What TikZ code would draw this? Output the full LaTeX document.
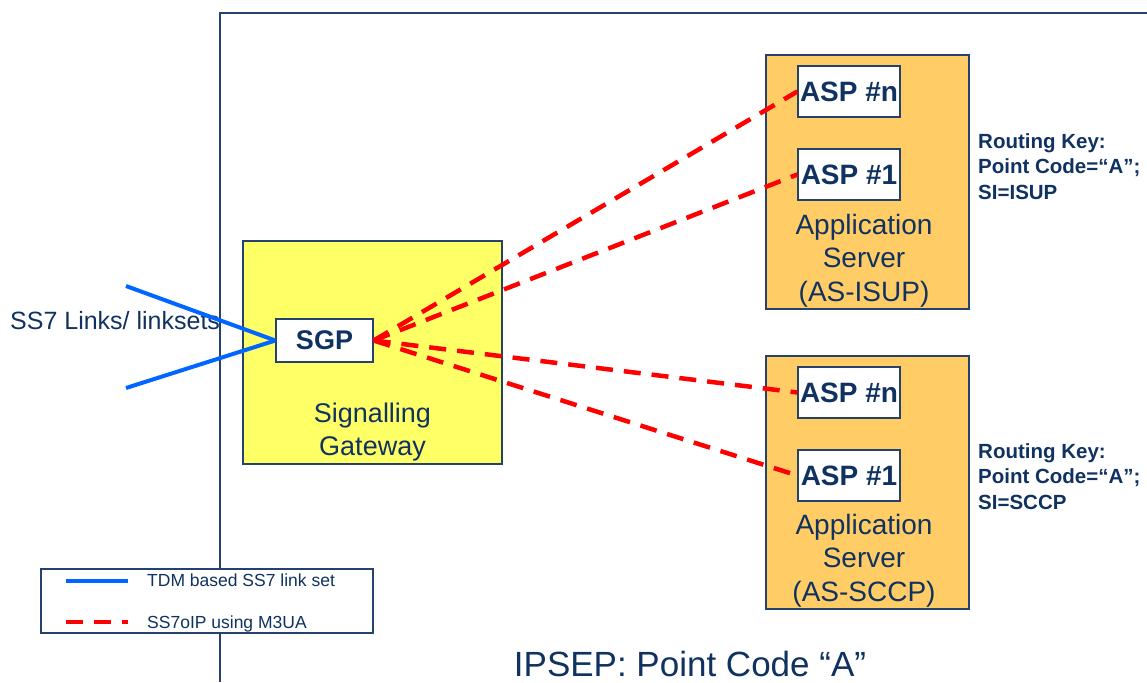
\documentclass[tikz,border=0pt]{standalone}
\usepackage{fontspec}
\setmainfont{Liberation Sans}
\definecolor{navy}{RGB}{16,50,96}
\definecolor{frameline}{RGB}{36,66,108}
\definecolor{gwyellow}{RGB}{255,255,102}
\definecolor{asorange}{RGB}{255,204,102}
\definecolor{tdmblue}{RGB}{0,102,255}
\definecolor{ipred}{RGB}{255,0,0}
\newcommand{\fsz}[1]{\fontsize{#1}{#1}\selectfont}
\begin{document}
\begin{tikzpicture}[x=1pt,y=-1pt,
  box/.style={draw=frameline, line width=1.3pt, rectangle, inner sep=0pt},
  aspbox/.style={box, fill=white, minimum width=102pt, minimum height=51pt,
    font=\fsz{28}\bfseries, text=navy},
  lbl/.style={text=navy, inner sep=0pt, align=center},
  tdm/.style={draw=tdmblue, line width=4pt},
  m3ua/.style={draw=ipred, line width=4.5pt, dash pattern=on 17pt off 11pt}]
\useasboundingbox (0,0) rectangle (1147,682);

% IPSEP boundary
\draw[frameline, line width=1.6pt] (220,682) -- (220,13) -- (1147,13);

% Signalling gateway (multi-line labels are placed by their last baseline)
\node[box, fill=gwyellow, minimum width=259pt, minimum height=223pt] (sg) at (372.5,352.5) {};
\node[box, fill=white, minimum width=97pt, minimum height=43pt,
  font=\fsz{27}\bfseries, text=navy] (sgp) at (324.5,340.5) {SGP};
\node[lbl, anchor=base, font=\fontsize{27}{33}\selectfont] (sglbl) at (372.5,455) {Signalling\\Gateway};

% Application servers
\node[box, fill=asorange, minimum width=203pt, minimum height=254pt] (asisup) at (867.5,182) {};
\node[aspbox] (isupn) at (849,91.5) {ASP \#n};
\node[aspbox] (isup1) at (849,174.5) {ASP \#1};
\node[lbl, anchor=base, font=\fontsize{28}{33.5}\selectfont] (isuplbl) at (864,301) {Application\\Server\\(AS-ISUP)};

\node[box, fill=asorange, minimum width=203pt, minimum height=253pt] (assccp) at (867.5,482.5) {};
\node[aspbox] (sccpn) at (849,392.5) {ASP \#n};
\node[aspbox] (sccp1) at (849,475.5) {ASP \#1};
\node[lbl, anchor=base, font=\fontsize{28}{33.5}\selectfont] (sccplbl) at (864,601) {Application\\Server\\(AS-SCCP)};

% Routing keys
\node[lbl, align=left, anchor=base west, font=\fontsize{20.5}{25.5}\selectfont\bfseries] (rkisup) at (978,199)
  {Routing Key:\\Point Code=“A”;\\SI=ISUP};
\node[lbl, align=left, anchor=base west, font=\fontsize{20.5}{25.5}\selectfont\bfseries] (rksccp) at (978,509)
  {Routing Key:\\Point Code=“A”;\\SI=SCCP};

% SS7 links into the gateway
\coordinate (ss7a) at (126,286);
\coordinate (ss7b) at (126,388);
\node[lbl, anchor=base west, font=\fsz{25}] (ss7lbl) at (10,329) {SS7 Links/ linksets};
\draw[tdm] (ss7a) -- (sgp.west);
\draw[tdm] (ss7b) -- (sgp.west);

% M3UA associations
\draw[m3ua] (sgp.east) -- (isupn.west);
\draw[m3ua] (sgp.east) -- (isup1.west);
\draw[m3ua] (sgp.east) -- (sccpn.west);
\draw[m3ua] (sgp.east) -- (sccp1.west);

% Legend
\node[box, fill=white, minimum width=332pt, minimum height=64pt] (legend) at (207,601) {};
\coordinate (la1) at (66,581);
\coordinate (la2) at (128,581);
\coordinate (lb1) at (66,622);
\coordinate (lb2) at (128,622);
\draw[tdm] (la1) -- (la2);
\draw[m3ua] (lb1) -- (lb2);
\node[lbl, anchor=base west, font=\fsz{17.5}] (ltdm) at (147,586) {TDM based SS7 link set};
\node[lbl, anchor=base west, font=\fsz{17.5}] (lip) at (147,628) {SS7oIP using M3UA};

% Caption
\node[lbl, anchor=base, font=\fsz{35}] (caption) at (690,676) {IPSEP: Point Code “A”};
\end{tikzpicture}
\end{document}
